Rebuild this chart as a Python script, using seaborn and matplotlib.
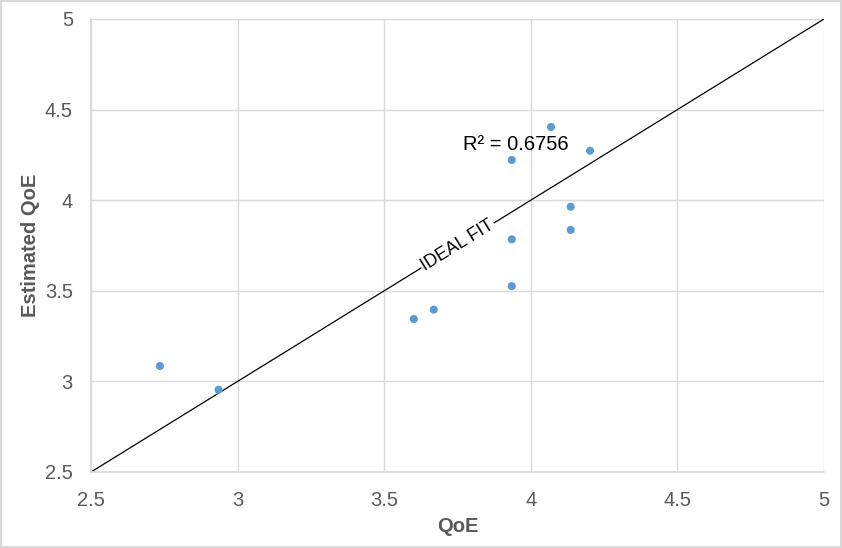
import numpy as np
import pandas as pd
import matplotlib
matplotlib.use("Agg")
import matplotlib.pyplot as plt
import seaborn as sns

# -------------------------------
# Data
# -------------------------------
qoe = [2.735, 2.935, 3.601, 3.669, 3.935, 3.935, 3.935, 4.069, 4.136, 4.136, 4.202]
est_qoe = [3.085, 2.954, 3.344, 3.396, 3.526, 3.784, 4.222, 4.404, 3.836, 3.964, 4.273]
ticks = [2.5, 3, 3.5, 4, 4.5, 5]
tick_labels = ["2.5", "3", "3.5", "4", "4.5", "5"]
r2_text = "R² = 0.6756"

df = pd.DataFrame({"QoE": qoe, "Estimated QoE": est_qoe})

sns.set_theme(style="whitegrid")
plt.rcParams["font.family"] = ["Liberation Sans", "DejaVu Sans"]
plt.rcParams["xtick.major.pad"] = 14
plt.rcParams["ytick.major.pad"] = 13
plt.rcParams["xtick.major.size"] = 0
plt.rcParams["ytick.major.size"] = 0

grid_col = "#d9d9d9"
text_col = "#595959"

fig = plt.figure(figsize=(8.42, 5.48), dpi=100)
fig.patch.set_facecolor("white")
fig.patch.set_edgecolor("#d9d9d9")
fig.patch.set_linewidth(1.5)
ax = fig.add_axes([91 / 842, 1 - 472 / 548, (824 - 91) / 842, (472 - 19) / 548])

# ideal fit line y = x
ax.plot([2.5, 5], [2.5, 5], color="black", lw=0.9, zorder=2)

sns.scatterplot(data=df, x="QoE", y="Estimated QoE", ax=ax, color="#5b9bd5",
                s=34, edgecolor="none", zorder=3)

ax.set_xlim(2.5, 5)
ax.set_ylim(2.5, 5)
ax.set_xticks(ticks)
ax.set_xticklabels(tick_labels)
ax.set_yticks(ticks)
ax.set_yticklabels(tick_labels)
ax.tick_params(axis="both", length=0, labelsize=14.5, colors=text_col)

ax.grid(True, color=grid_col, lw=1)
for side in ["top", "right"]:
    ax.spines[side].set_visible(False)
for side in ["left", "bottom"]:
    ax.spines[side].set_color(grid_col)
    ax.spines[side].set_linewidth(1.2)

ax.set_xlabel("QoE", fontsize=14.5, fontweight="bold", color=text_col)
ax.set_ylabel("Estimated QoE", fontsize=14.5, fontweight="bold", color=text_col)
ax.xaxis.set_label_coords(0.5, (472 - 517) / 453)
ax.yaxis.set_label_coords((40 - 91) / 733, 0.5)

# line angle in screen space
fig.canvas.draw()
p1 = ax.transData.transform((2.5, 2.5))
p2 = ax.transData.transform((5, 5))
angle = np.degrees(np.arctan2(p2[1] - p1[1], p2[0] - p1[0]))

ax.text(3.75, 3.75, "IDEAL FIT", rotation=angle, rotation_mode="anchor",
        ha="center", va="center", fontsize=12.8, color="black", zorder=4,
        bbox=dict(facecolor="white", edgecolor="none", pad=1.0))
ax.text(3.95, 4.305, r2_text, ha="center", va="center", fontsize=14.5,
        color="black", zorder=4)

fig.savefig("out.png", dpi=100)
